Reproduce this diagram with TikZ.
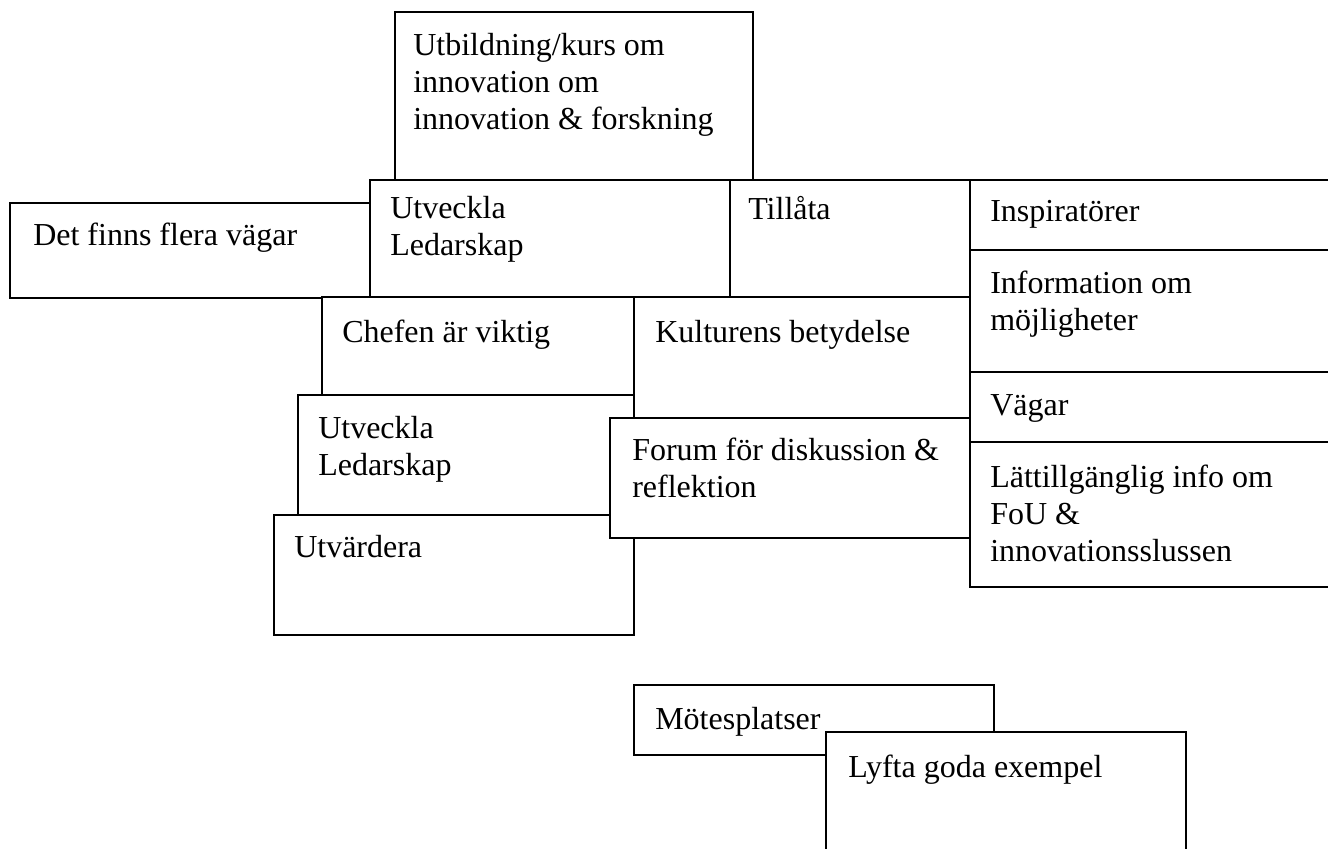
\documentclass[tikz,border=0pt]{standalone}
\usepackage{fontspec}
\setmainfont{Liberation Serif}

\tikzset{
  box/.style={draw,fill=white,line width=1.4pt},
  boxtext/.style={anchor=base west,inner sep=0pt,align=left,
    font=\fontsize{24}{27.75}\selectfont}
}

\begin{document}
\begin{tikzpicture}[x=0.75pt,y=-0.75pt]
  \clip (0,0) rectangle (1328,849);
  % Top row
  \draw[box] (395,12) rectangle (753,180);
  \node[boxtext] (utbildning) at (413,129) {Utbildning/kurs om\\innovation om\\innovation \& forskning};
  \draw[box] (10,203) rectangle (370,298);
  \node[boxtext] (vagarflera) at (33,245) {Det finns flera vägar};
  \draw[box] (370,180) rectangle (730,297);
  \node[boxtext] (ledarskapA) at (390,255) {Utveckla\\Ledarskap};
  \draw[box] (730,180) rectangle (970,297);
  \node[boxtext] (tillata) at (748,219) {Tillåta};
  % Right column
  \draw[box] (970,180) rectangle (1340,250);
  \node[boxtext] (inspiratorer) at (990,221) {Inspiratörer};
  \draw[box] (970,250) rectangle (1340,372);
  \node[boxtext] (information) at (990,330) {Information om\\möjligheter};
  \draw[box] (970,372) rectangle (1340,442);
  \node[boxtext] (vagar) at (990,415) {Vägar};
  \draw[box] (970,442) rectangle (1340,587);
  \node[boxtext] (lattillganglig) at (990,561) {Lättillgänglig info om\\FoU \&\\innovationsslussen};
  % Middle
  \draw[box] (322,297) rectangle (634,395);
  \node[boxtext] (chefen) at (342,342) {Chefen är viktig};
  \draw[box] (634,297) rectangle (970,418);
  \node[boxtext] (kulturen) at (655,342) {Kulturens betydelse};
  \draw[box] (298,395) rectangle (634,515);
  \node[boxtext] (ledarskapB) at (318,475) {Utveckla\\Ledarskap};
  \draw[box] (274,515) rectangle (634,635);
  \node[boxtext] (utvardera) at (294,557) {Utvärdera};
  \draw[box] (610,418) rectangle (970,538);
  \node[boxtext] (forum) at (632,497) {Forum för diskussion \&\\reflektion};
  % Bottom
  \draw[box] (634,685) rectangle (994,755);
  \node[boxtext] (motesplatser) at (655,729) {Mötesplatser};
  \draw[box] (826,732) rectangle (1186,870);
  \node[boxtext] (exempel) at (848,777) {Lyfta goda exempel};
\end{tikzpicture}
\end{document}
